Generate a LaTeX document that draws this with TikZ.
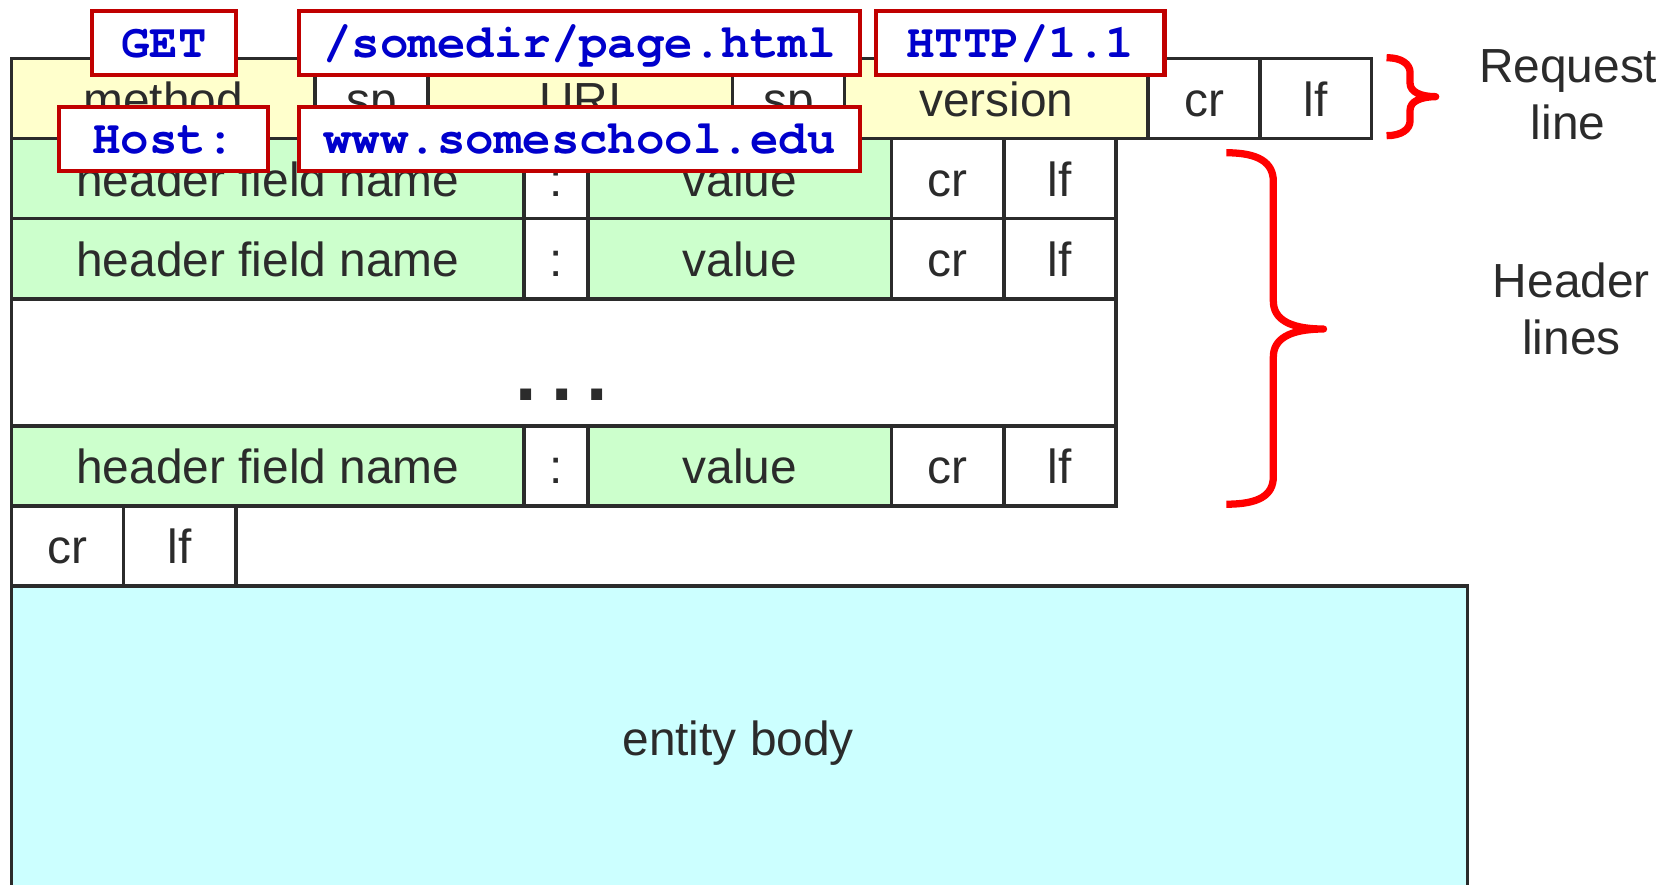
\documentclass[tikz,border=0pt]{standalone}
\usepackage{fontspec}
\setmainfont{Liberation Sans}
\newfontfamily\codefont{TeX Gyre Cursor}
\definecolor{linec}{HTML}{2B2B2B}
\definecolor{txtc}{HTML}{2B2B2B}
\definecolor{reqyellow}{HTML}{FFFFCC}
\definecolor{hdrgreen}{HTML}{CCFFCC}
\definecolor{bodycyan}{HTML}{CCFFFF}
\definecolor{tagred}{HTML}{C00000}
\definecolor{codeblue}{HTML}{0000CC}
\definecolor{bracered}{HTML}{FF0000}
\tikzset{
  cellbox/.style={draw=linec, line width=1.7pt, inner sep=0pt, text height=16.5pt, text depth=0pt,
    font=\fontsize{22.4}{26.5}\selectfont, text=txtc},
  tagbox/.style={draw=tagred, line width=2pt, fill=white, inner sep=0pt, text height=13.5pt, text depth=0pt,
    font=\codefont\bfseries\fontsize{22.2}{26}\selectfont, text=codeblue},
  lbl/.style={font=\fontsize{22.4}{26.5}\selectfont, text=txtc, inner sep=0pt},
  bracestroke/.style={draw=bracered, line width=3.4pt, line join=round, line cap=butt}
}
\newcommand{\fcell}[7]{%
  \pgfmathsetmacro{\cellw}{(#4-#2)*0.5}%
  \pgfmathsetmacro{\cellh}{(#5-#3)*0.5}%
  \node[cellbox, fill=#6, minimum width=\cellw pt, minimum height=\cellh pt, anchor=north west] (#1) at (#2,#3) {#7};}
\newcommand{\ftag}[6]{%
  \pgfmathsetmacro{\cellw}{(#4-#2)*0.5}%
  \pgfmathsetmacro{\cellh}{(#5-#3)*0.5}%
  \node[tagbox, minimum width=\cellw pt, minimum height=\cellh pt, anchor=north west] (#1) at (#2,#3) {#6};}
\begin{document}
\begin{tikzpicture}[x=0.5pt,y=-0.5pt]
\path[use as bounding box] (0,0) rectangle (1568,828);
\clip (0,0) rectangle (1568,828);
% entity body
\fcell{body}{9}{547}{1372}{880}{bodycyan}{}
\node[lbl, anchor=base] (bodylbl) at (691,707) {entity body};
% request line
\fcell{method}{9}{53}{293}{128}{reqyellow}{method}
\fcell{sp1}{293}{53}{399}{128}{white}{sp}
\fcell{uri}{399}{53}{684}{128}{reqyellow}{URI}
\fcell{sp2}{684}{53}{789}{128}{white}{sp}
\fcell{version}{789}{53}{1073}{128}{reqyellow}{version}
\fcell{rcr}{1073}{53}{1178}{128}{white}{cr}
\fcell{rlf}{1178}{53}{1282}{128}{white}{lf}
% header line 1
\fcell{hn1}{9}{128}{489}{203}{hdrgreen}{header field name}
\fcell{hc1}{489}{128}{549}{203}{white}{:}
\fcell{hv1}{549}{128}{833}{203}{hdrgreen}{value}
\fcell{hcr1}{833}{128}{938}{203}{white}{cr}
\fcell{hlf1}{938}{128}{1043}{203}{white}{lf}
% header line 2
\fcell{hn2}{9}{203}{489}{278}{hdrgreen}{header field name}
\fcell{hc2}{489}{203}{549}{278}{white}{:}
\fcell{hv2}{549}{203}{833}{278}{hdrgreen}{value}
\fcell{hcr2}{833}{203}{938}{278}{white}{cr}
\fcell{hlf2}{938}{203}{1043}{278}{white}{lf}
% blank row
\fcell{blank}{9}{278}{1043}{397}{white}{}
\node[font=\bfseries\fontsize{36}{40}\selectfont, text=txtc, anchor=base, inner sep=0pt] (dots) at (526,375) {.\hspace{6.7pt}.\hspace{6.7pt}.};
% header line 3
\fcell{hn3}{9}{397}{489}{472}{hdrgreen}{header field name}
\fcell{hc3}{489}{397}{549}{472}{white}{:}
\fcell{hv3}{549}{397}{833}{472}{hdrgreen}{value}
\fcell{hcr3}{833}{397}{938}{472}{white}{cr}
\fcell{hlf3}{938}{397}{1043}{472}{white}{lf}
% final cr lf
\fcell{ecr}{9}{472}{114}{547}{white}{cr}
\fcell{elf}{114}{472}{219}{547}{white}{lf}
% tags
\ftag{tget}{84}{8}{219}{68}{GET}
\ftag{tpath}{278}{8}{803}{68}{/somedir/page.html}
\ftag{tver}{818}{8}{1088}{68}{HTTP/1.1}
\ftag{thost}{53}{98}{249}{158}{Host:}
\ftag{tsite}{278}{98}{803}{158}{www.someschool.edu}
% braces
\draw[bracestroke] (1298,54) .. controls (1312,54) and (1320,60) .. (1320,68) -- (1320,78)
  .. controls (1320,86) and (1330,90.5) .. (1344,90.5)
  .. controls (1330,90.5) and (1320,95) .. (1320,103) -- (1320,113)
  .. controls (1320,121) and (1312,127) .. (1298,127);
\draw[bracestroke] (1148,143) .. controls (1178,143) and (1192,152) .. (1192,170) -- (1192,282)
  .. controls (1192,298) and (1206,308) .. (1239,308)
  .. controls (1206,308) and (1192,318) .. (1192,334) -- (1192,446)
  .. controls (1192,464) and (1178,472) .. (1148,472);
% labels
\node[lbl, align=center] (reqlbl) at (1468,88.5) {Request\\line};
\node[lbl, align=center] (hdrlbl) at (1471,289) {Header\\lines};
\end{tikzpicture}
\end{document}
